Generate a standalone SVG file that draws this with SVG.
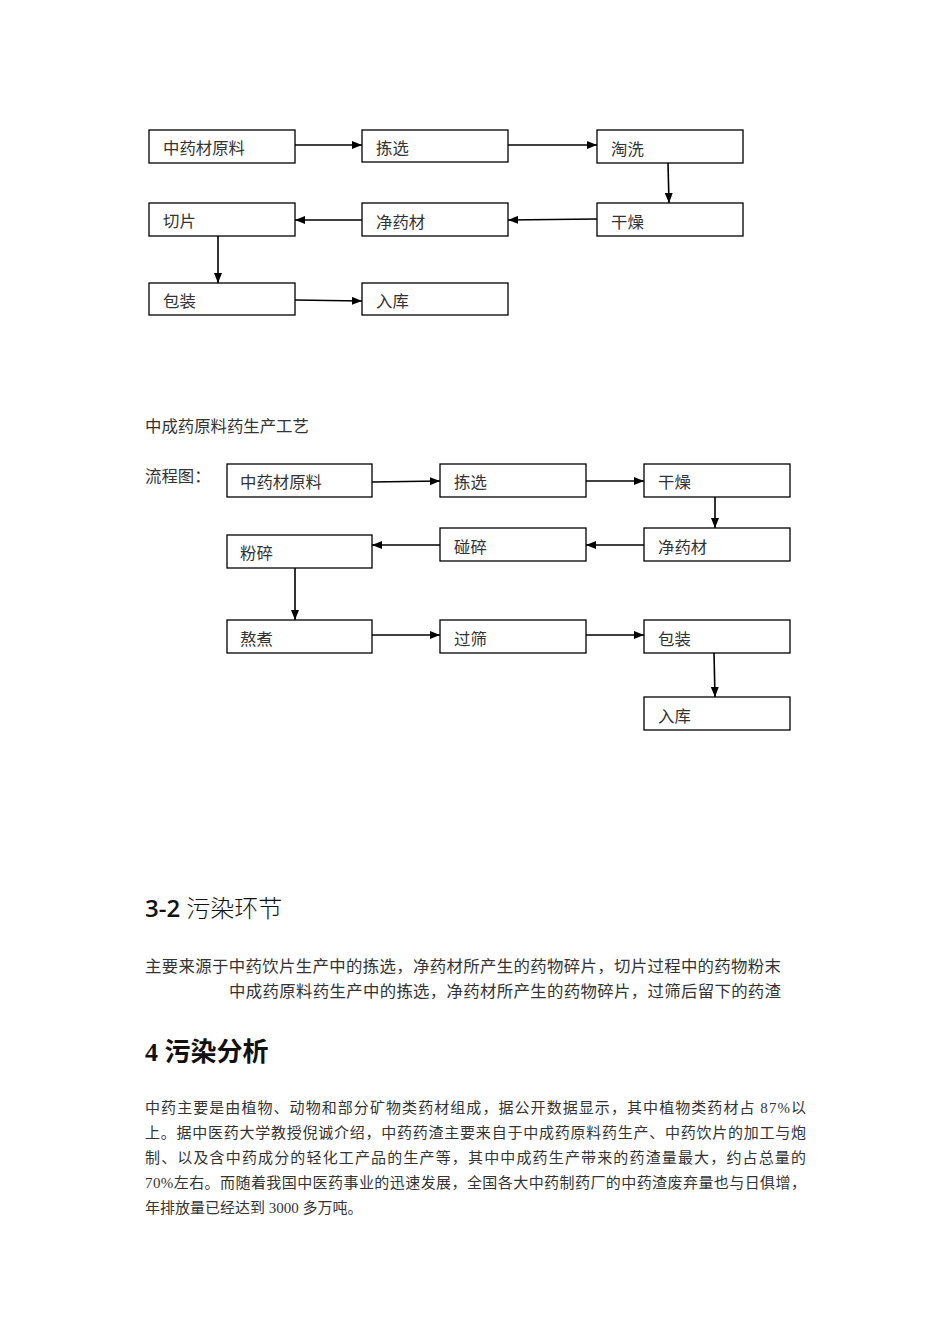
<svg xmlns="http://www.w3.org/2000/svg" width="950" height="1344" viewBox="0 0 950 1344">
<defs>
<marker id="ah" markerWidth="10" markerHeight="8" refX="10" refY="4" orient="auto" markerUnits="userSpaceOnUse">
<path d="M0,0 L10,4 L0,8 Z" fill="#000"/>
</marker>
<style>
.box{fill:#fff;stroke:#000;stroke-width:1.3}
.lbl{font-family:"Noto Sans CJK SC","Liberation Serif",serif;font-size:16.4px;fill:#333}
.con{stroke:#000;stroke-width:1.6;fill:none;marker-end:url(#ah)}
.txt{font-family:"Liberation Serif","Noto Sans CJK SC",serif;font-size:15px;fill:#333}
</style>
</defs>
<rect width="950" height="1344" fill="#fff"/>

<!-- Diagram 1 -->
<g id="d1-n1"><rect class="box" x="149" y="130" width="146" height="33"/><text class="lbl" x="163" y="154">中药材原料</text></g>
<g id="d1-n2"><rect class="box" x="362" y="130" width="146" height="32"/><text class="lbl" x="376" y="154">拣选</text></g>
<g id="d1-n3"><rect class="box" x="597" y="130" width="146" height="33"/><text class="lbl" x="611" y="155">淘洗</text></g>
<g id="d1-n4"><rect class="box" x="149" y="203" width="146" height="33"/><text class="lbl" x="163" y="227">切片</text></g>
<g id="d1-n5"><rect class="box" x="362" y="203" width="146" height="33"/><text class="lbl" x="376" y="228">净药材</text></g>
<g id="d1-n6"><rect class="box" x="597" y="203" width="146" height="33"/><text class="lbl" x="611" y="228">干燥</text></g>
<g id="d1-n7"><rect class="box" x="149" y="283" width="146" height="32"/><text class="lbl" x="163" y="307">包装</text></g>
<g id="d1-n8"><rect class="box" x="362" y="283" width="146" height="32"/><text class="lbl" x="376" y="307">入库</text></g>

<g id="d1-connectors">
<line class="con" x1="295" y1="145" x2="362" y2="145"/>
<line class="con" x1="508" y1="145" x2="597" y2="145"/>
<line class="con" x1="668" y1="163" x2="669" y2="203"/>
<line class="con" x1="597" y1="219" x2="508" y2="220"/>
<line class="con" x1="362" y1="220" x2="295" y2="220"/>
<line class="con" x1="218" y1="236" x2="218" y2="283"/>
<line class="con" x1="295" y1="300" x2="362" y2="301"/>
</g>

<!-- Diagram 2 -->
<text class="lbl" x="145" y="432">中成药原料药生产工艺</text>
<text class="lbl" x="145" y="482">流程图：</text>

<g id="d2-n1"><rect class="box" x="227" y="464" width="145" height="33"/><text class="lbl" x="240" y="488">中药材原料</text></g>
<g id="d2-n2"><rect class="box" x="440" y="464" width="146" height="33"/><text class="lbl" x="454" y="488">拣选</text></g>
<g id="d2-n3"><rect class="box" x="644" y="464" width="146" height="33"/><text class="lbl" x="658" y="488">干燥</text></g>
<g id="d2-n4"><rect class="box" x="227" y="535" width="145" height="33"/><text class="lbl" x="240" y="559">粉碎</text></g>
<g id="d2-n5"><rect class="box" x="440" y="528" width="146" height="33"/><text class="lbl" x="454" y="553">碰碎</text></g>
<g id="d2-n6"><rect class="box" x="644" y="528" width="146" height="33"/><text class="lbl" x="658" y="553">净药材</text></g>
<g id="d2-n7"><rect class="box" x="227" y="620" width="145" height="33"/><text class="lbl" x="240" y="645">熬煮</text></g>
<g id="d2-n8"><rect class="box" x="440" y="620" width="146" height="33"/><text class="lbl" x="454" y="645">过筛</text></g>
<g id="d2-n9"><rect class="box" x="644" y="620" width="146" height="33"/><text class="lbl" x="658" y="645">包装</text></g>
<g id="d2-n10"><rect class="box" x="644" y="697" width="146" height="33"/><text class="lbl" x="658" y="722">入库</text></g>

<g id="d2-connectors">
<line class="con" x1="372" y1="482" x2="440" y2="481"/>
<line class="con" x1="586" y1="481" x2="644" y2="481"/>
<line class="con" x1="715" y1="497" x2="715" y2="528"/>
<line class="con" x1="644" y1="545" x2="586" y2="545"/>
<line class="con" x1="440" y1="545" x2="372" y2="545"/>
<line class="con" x1="295" y1="568" x2="295" y2="620"/>
<line class="con" x1="372" y1="635" x2="440" y2="635"/>
<line class="con" x1="586" y1="635" x2="644" y2="635"/>
<line class="con" x1="714" y1="653" x2="715" y2="697"/>
</g>

<!-- Section 3-2 -->
<text x="145" y="917" font-size="24" fill="#111"><tspan font-weight="600" font-family="'Open Sans','Liberation Sans',sans-serif">3-2</tspan> <tspan font-family="'Noto Sans CJK SC',sans-serif" font-weight="300">污染环节</tspan></text>
<text class="lbl" x="145" y="972" textLength="636" lengthAdjust="spacing">主要来源于中药饮片生产中的拣选，净药材所产生的药物碎片，切片过程中的药物粉末</text>
<text class="lbl" x="229" y="997" textLength="552" lengthAdjust="spacing">中成药原料药生产中的拣选，净药材所产生的药物碎片，过筛后留下的药渣</text>

<!-- Section 4 -->
<text x="145" y="1061" font-family="'Liberation Serif','Noto Sans CJK SC',serif" font-size="26" font-weight="bold" fill="#111">4 <tspan font-family="'Noto Sans CJK SC',sans-serif">污染分析</tspan></text>
<text class="txt" x="145" y="1113" textLength="661" lengthAdjust="spacing">中药主要是由植物、动物和部分矿物类药材组成，据公开数据显示，其中植物类药材占 87%以</text>
<text class="txt" x="145" y="1138" textLength="661" lengthAdjust="spacing">上。据中医药大学教授倪诚介绍，中药药渣主要来自于中成药原料药生产、中药饮片的加工与炮</text>
<text class="txt" x="145" y="1163" textLength="661" lengthAdjust="spacing">制、以及含中药成分的轻化工产品的生产等，其中中成药生产带来的药渣量最大，约占总量的</text>
<text class="txt" x="145" y="1188" textLength="661" lengthAdjust="spacing">70%左右。而随着我国中医药事业的迅速发展，全国各大中药制药厂的中药渣废弃量也与日俱增，</text>
<text class="txt" x="145" y="1213">年排放量已经达到 3000 多万吨。</text>
</svg>
